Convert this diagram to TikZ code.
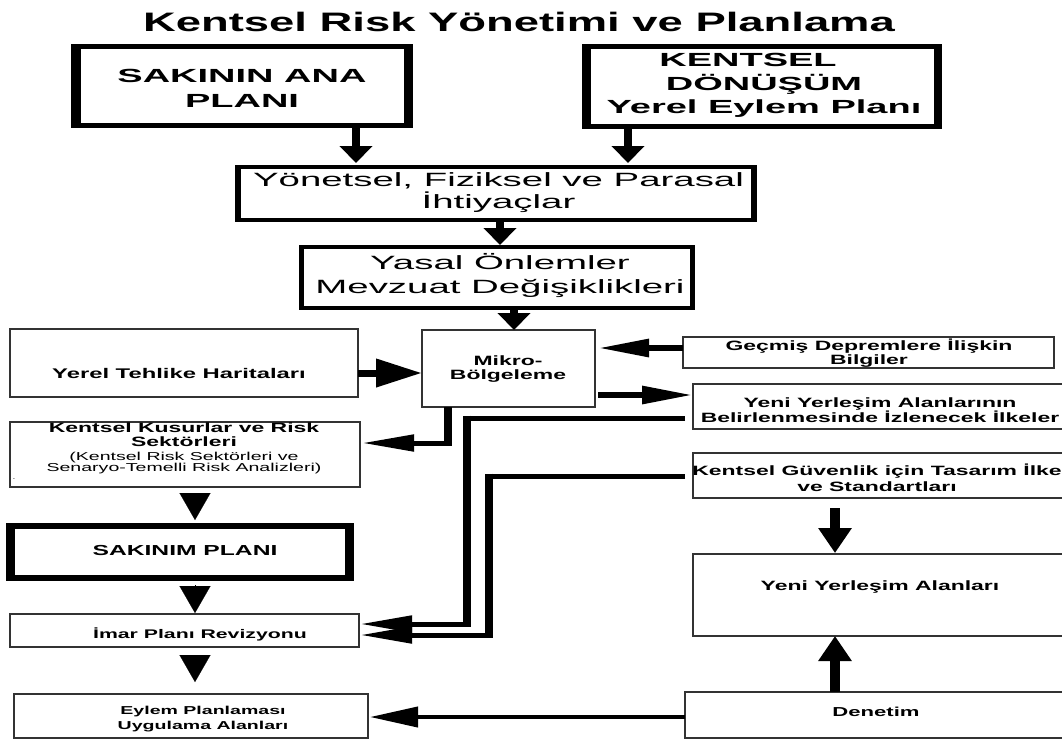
\documentclass[tikz,border=0pt]{standalone}
\usepackage{fontspec}
\setmainfont{Liberation Sans}[FakeStretch=1.7]
\newfontfamily\widefont{Liberation Sans}[FakeStretch=2.0]
\usetikzlibrary{arrows.meta}

\tikzset{
  box/.style={rectangle, inner sep=0pt, outer sep=0pt, anchor=north west},
  tbox/.style={box, draw=black!80, line width=1.5pt, fill=white},
  heavybox/.style n args={2}{box, fill=black,
    path picture={\fill[white] ([xshift=#1pt,yshift=-#2pt]path picture bounding box.north west) rectangle ([xshift=-#1pt,yshift=#2pt]path picture bounding box.south east);}},
  txt/.style={inner sep=0pt, align=center, text=black},
  bftxt/.style n args={2}{txt, font=\bfseries\fontsize{#1}{#2}\selectfont},
  rmtxt/.style n args={2}{txt, font=\fontsize{#1}{#2}\selectfont},
  widebf/.style n args={2}{txt, font=\widefont\bfseries\fontsize{#1}{#2}\selectfont},
  widerm/.style n args={2}{txt, font=\widefont\fontsize{#1}{#2}\selectfont},
  varr/.style={line width=8pt, -{Triangle[length=17pt,width=32pt]}},
  varrtwo/.style={line width=10pt, -{Triangle[length=25pt,width=32pt]}},
  harrbig/.style={line width=7pt, -{Triangle[length=46pt,width=27pt]}},
  harrsm/.style={line width=6pt, -{Triangle[length=51pt,width=17pt]}},
  elbowarr/.style={line width=5pt, -{Triangle[length=52pt,width=16pt]}},
  vseg/.style={line width=7.5pt},
  thinarr/.style={line width=4pt, -{Triangle[length=48pt,width=20pt]}},
  tri/.style={line width=0.1pt, -{Triangle[length=27pt,width=31pt]}},
}

\begin{document}
\begin{tikzpicture}[x=1pt,y=-1pt]
\useasboundingbox (0,0) rectangle (1062,740);
\clip (0,0) rectangle (1062,740);
\fill[white] (0,0) rectangle (1062,740);

% helper coordinates
\coordinate (x1) at (356,0);
\coordinate (x2) at (628,0);
\coordinate (x3) at (500,0);
\coordinate (x4) at (514,0);
\coordinate (xm) at (448,0);
\coordinate (xa) at (467,0);
\coordinate (xb) at (489,0);
\coordinate (xr) at (835,0);
\coordinate (xt) at (195,0);
\coordinate (y1) at (0,373);
\coordinate (y2) at (0,348);
\coordinate (y3) at (0,395);
\coordinate (y4) at (0,443);
\coordinate (ya1) at (0,418);
\coordinate (ya2) at (0,624);
\coordinate (yb1) at (0,476);
\coordinate (yb2) at (0,635);
\coordinate (yd) at (0,717);

% boxes
\node[heavybox={9.5}{5}, minimum width=342pt, minimum height=84pt] (sakana) at (71,44) {};
\node[heavybox={8.5}{5}, minimum width=360pt, minimum height=85pt] (kdon) at (582,44) {};
\node[heavybox={6}{4}, minimum width=522pt, minimum height=57pt] (ihti) at (235,165) {};
\node[heavybox={5}{4}, minimum width=396pt, minimum height=65pt] (yasal) at (299,245) {};
\node[tbox, minimum width=173pt, minimum height=77pt] (mikro) at (422,330) {};
\node[tbox, minimum width=348pt, minimum height=68pt] (yerel) at (10,329) {};
\node[tbox, minimum width=371pt, minimum height=31pt] (gecmis) at (683,337) {};
\node[tbox, minimum width=373pt, minimum height=45pt] (yenilk) at (693,384) {};
\node[tbox, minimum width=350pt, minimum height=65pt] (kusur) at (10,422) {};
\node[tbox, minimum width=373pt, minimum height=45pt] (guven) at (693,453) {};
\node[heavybox={9}{6}, minimum width=348pt, minimum height=58pt] (sakinim) at (6,523) {};
\node[tbox, minimum width=349pt, minimum height=33pt] (imar) at (10,614) {};
\node[tbox, minimum width=373pt, minimum height=82pt] (yya) at (693,554) {};
\node[tbox, minimum width=354pt, minimum height=44pt] (eylem) at (14,694) {};
\node[tbox, minimum width=381pt, minimum height=46pt] (denetim) at (685,692) {};

% texts
\node[bftxt={26.7}{30}] (title) at (519,22) {Kentsel Risk Yönetimi ve Planlama};
\node[widebf={19}{25.5}] (t1) at (242,88.3) {SAKININ ANA\\PLANI};
\node[widebf={19}{23.5}] (t2) at (764,85.5) {KENTSEL\hspace*{32pt}\\DÖNÜŞÜM\hspace*{40pt}\\Yerel Eylem Planı};
\node[widerm={19.2}{22}] (t3) at (498.5,192.4) {Yönetsel, Fiziksel ve Parasal\\İhtiyaçlar};
\node[widerm={19.2}{24}] (t4) at (500,275.4) {Yasal Önlemler\\Mevzuat Değişiklikleri};
\node[bftxt={13.5}{14}] (tm) at (508,369) {Mikro-\\Bölgeleme};
\node[bftxt={14}{16}] (ty) at (179,373) {Yerel Tehlike Haritaları};
\node[bftxt={13.5}{12.5}] (tg) at (869,353) {Geçmiş Depremlere İlişkin\\Bilgiler};
\node[bftxt={13.5}{14}] (tyi) at (880,410) {Yeni Yerleşim Alanlarının\\Belirlenmesinde İzlenecek İlkeler};
\node[bftxt={13.5}{14}] (tk1) at (184,435) {Kentsel Kusurlar ve Risk\\Sektörleri};
\node[rmtxt={11.5}{11}] (tk2) at (184,463.5) {(Kentsel Risk Sektörleri ve\\Senaryo-Temelli Risk Analizleri)};
\node[rmtxt={6}{6}] (tdot) at (14,479) {.};
\node[bftxt={13.5}{16}] (tgv) at (877,478) {Kentsel Güvenlik için Tasarım İlke\\ve Standartları};
\node[bftxt={14.5}{16}] (ts) at (185,550) {SAKINIM PLANI};
\node[bftxt={12.5}{14}] (ti) at (200,634) {İmar Planı Revizyonu};
\node[bftxt={13.5}{14}] (tya) at (880,587) {Yeni Yerleşim Alanları};
\node[bftxt={11.5}{15}] (te) at (203,719.5) {Eylem Planlaması\\Uygulama Alanları};
\node[bftxt={13}{14}] (td) at (876,712) {Denetim};

% vertical arrows at the top
\draw[varr] (sakana.south -| x1) -- ([yshift=2pt]ihti.north -| x1);
\draw[varr] (kdon.south -| x2) -- ([yshift=2pt]ihti.north -| x2);
\draw[varr] (ihti.south -| x3) -- (yasal.north -| x3);
\draw[varr] (yasal.south -| x4) -- (mikro.north -| x4);

% horizontal arrows around Mikro-Bölgeleme
\draw[harrbig] (yerel.east |- y1) -- (mikro.west |- y1);
\draw[harrsm] (gecmis.west |- y2) -- ([xshift=3pt]mikro.east |- y2);
\draw[harrsm] ([xshift=3pt]mikro.east |- y3) -- (yenilk.west |- y3);

% Mikro -> Kentsel Kusurlar
\draw[elbowarr] (mikro.south -| xm) |- ([xshift=2pt]kusur.east |- y4);
\draw[vseg] (mikro.south -| xm) -- ([yshift=-2.5pt]xm |- y4);

% double connectors to Imar Plani Revizyonu
\draw[elbowarr] ([xshift=-8pt]yenilk.west |- ya1) -- (xa |- ya1) -- (xa |- ya2) -- ([xshift=1pt]imar.east |- ya2);
\draw[vseg] ([yshift=2.5pt]xa |- ya1) -- ([yshift=-2.5pt]xa |- ya2);
\draw[elbowarr] ([xshift=-8pt]guven.west |- yb1) -- (xb |- yb1) -- (xb |- yb2) -- ([xshift=1pt]imar.east |- yb2);
\draw[vseg] ([yshift=2.5pt]xb |- yb1) -- ([yshift=-2.5pt]xb |- yb2);

% right column
\draw[varrtwo] ([yshift=-10pt]guven.south -| xr) -- ([yshift=1pt]yya.north -| xr);
\draw[varrtwo] (denetim.north -| xr) -- (yya.south -| xr);
\draw[thinarr] (denetim.west |- yd) -- ([xshift=2pt]eylem.east |- yd);

% left column triangles
\draw[tri] ([yshift=-6pt]kusur.south -| xt) -- ([yshift=3pt]sakinim.north -| xt);
\draw[tri] ([yshift=-4pt]sakinim.south -| xt) -- ([yshift=1pt]imar.north -| xt);
\draw[tri] ([yshift=-8pt]imar.south -| xt) -- ([yshift=12pt]eylem.north -| xt);
\end{tikzpicture}
\end{document}
